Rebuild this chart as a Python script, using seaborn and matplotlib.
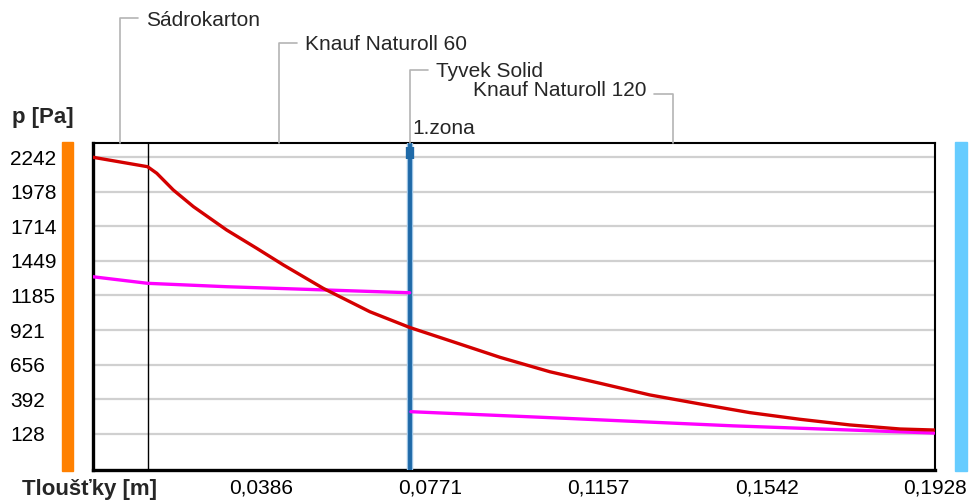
import matplotlib
matplotlib.use("Agg")
import matplotlib.pyplot as plt
import matplotlib.transforms as mtransforms
from matplotlib.patches import Rectangle
import seaborn as sns
import pandas as pd
import numpy as np

# ---------------- data ----------------
layer_names = ["Sádrokarton", "Knauf Naturoll 60", "Tyvek Solid", "Knauf Naturoll 120"]
layer_thick = [0.0125, 0.0600, 0.0003, 0.1200]

# saturation pressure (red)
x_sat = [0.0, 0.0125, 0.0146, 0.0184, 0.0230, 0.0306, 0.0375, 0.0436, 0.0527, 0.0634,
         0.0726, 0.0817, 0.0932, 0.1046, 0.1161, 0.1275, 0.1390, 0.1504, 0.1619,
         0.1733, 0.1848, 0.1928]
p_sat = [2240, 2168, 2118, 1990, 1863, 1685, 1545, 1418, 1240, 1061,
         940, 840, 713, 603, 515, 426, 357, 291, 240,
         197, 166, 158]

# partial pressure (magenta), two segments
x_par1 = [0.0, 0.0125, 0.0306, 0.0725]
p_par1 = [1328, 1278, 1252, 1206]
x_par2 = [0.0728, 0.1085, 0.1466, 0.1928]
p_par2 = [298, 247, 190, 135]

y_ticks = [128, 392, 656, 921, 1185, 1449, 1714, 1978, 2242]
x_tick_labels = ["0,0386", "0,0771", "0,1157", "0,1542", "0,1928"]
zone_label = "1.zona"

# ---------------- style ----------------
sns.set_theme(style="white")
plt.rcParams["font.family"] = ["Liberation Sans", "DejaVu Sans"]
plt.rcParams["font.size"] = 15

W, H = 972, 504
fig = plt.figure(figsize=(W / 100, H / 100), dpi=100)
ax = fig.add_axes([93 / W, (H - 470) / H, 842 / W, 327 / H])

def fy(y):
    return 1 - y / H

x_max = sum(layer_thick)
ax.set_xlim(0, x_max)
ax.set_ylim(-147, 2349)

# gridlines
ax.set_axisbelow(True)
ax.set_yticks(y_ticks)
ax.set_yticklabels([str(v) for v in y_ticks], ha="left")
ax.yaxis.grid(True, color="#d0d0d0", lw=1.6)
ax.xaxis.grid(False)
ax.tick_params(axis="y", length=0, pad=83 * 0.72, labelsize=15, colors="#000000")

# x ticks: ten subdivisions, labels on every second
xt = [x_max * i / 10 for i in range(1, 11)]
ax.set_xticks(xt)
labs = []
k = 0
for i in range(1, 11):
    if i % 2 == 0:
        labs.append(x_tick_labels[k]); k += 1
    else:
        labs.append("")
ax.set_xticklabels(labs)
ax.tick_params(axis="x", direction="in", length=7.5, width=1.2, color="#b0b0b0",
               pad=6, labelsize=15, labelcolor="#000000")

for s, lw in [("left", 2.4), ("bottom", 2.4), ("top", 1.5), ("right", 1.5)]:
    ax.spines[s].set_visible(True)
    ax.spines[s].set_color("black")
    ax.spines[s].set_linewidth(lw)

# layer boundaries
bounds = np.cumsum([0] + layer_thick)
ax.axvline(bounds[1], color="black", lw=1.0, zorder=2)

# condensation zone line
zx = bounds[2]
ax.axvline(zx, color="#9cc3e4", lw=4.6, zorder=3)
ax.axvline(zx, color="#1f6aa8", lw=2.8, zorder=4)
ax.plot([zx, zx], [2318, 2227], color="#1f6aa8", lw=6, solid_capstyle="butt", zorder=5)

# curves
df_sat = pd.DataFrame({"x": x_sat, "p": p_sat})
sns.lineplot(data=df_sat, x="x", y="p", ax=ax, color="#d40000", lw=2.4,
             sort=False, estimator=None, zorder=6)
df_par = pd.DataFrame({"x": x_par1 + x_par2, "p": p_par1 + p_par2,
                       "seg": ["a"] * len(x_par1) + ["b"] * len(x_par2)})
sns.lineplot(data=df_par, x="x", y="p", units="seg", ax=ax, color="#ff00ff", lw=2.4,
             sort=False, estimator=None, zorder=5, legend=False)

ax.set_xlabel("")
ax.set_ylabel("")

# layer leader annotations
trans = mtransforms.blended_transform_factory(ax.transData, fig.transFigure)
lead_y = [18, 43, 70, 94]
mids = [(bounds[0] + bounds[1]) / 2, (bounds[1] + bounds[2]) / 2, bounds[2] + layer_thick[2] / 2,
        (bounds[3] + bounds[4]) / 2]
px_per_m = 842 / x_max
for i, (name, xm, yl) in enumerate(zip(layer_names, mids, lead_y)):
    xpix = 93 + xm * px_per_m
    right = i < 3
    xend = xpix + 18 if right else xpix - 19
    ln = plt.Line2D([xpix / W, xpix / W, xend / W], [fy(143), fy(yl), fy(yl)],
                    transform=fig.transFigure, color="#b4b4b4", lw=1.2)
    fig.lines.append(ln)
    if right:
        fig.text((xend + 8) / W, fy(yl + 2), name, ha="left", va="center", fontsize=15)
    else:
        fig.text((xend - 7) / W, fy(yl - 4), name, ha="right", va="center", fontsize=15)

fig.text(412 / W, fy(129), zone_label, ha="left", va="center", fontsize=15)

# side bars
fig.patches.append(Rectangle((62 / W, fy(471)), 11 / W, 329 / H, color="#ff8000",
                             transform=fig.transFigure))
fig.patches.append(Rectangle((955 / W, fy(471)), 12 / W, 329 / H, color="#66ccff",
                             transform=fig.transFigure))

# axis titles
fig.text(12 / W, fy(118), "p [Pa]", ha="left", va="center", fontsize=16, fontweight="bold")
fig.text(22 / W, fy(490), "Tloušťky [m]", ha="left", va="center", fontsize=16, fontweight="bold")

fig.savefig("out.png", dpi=100)
